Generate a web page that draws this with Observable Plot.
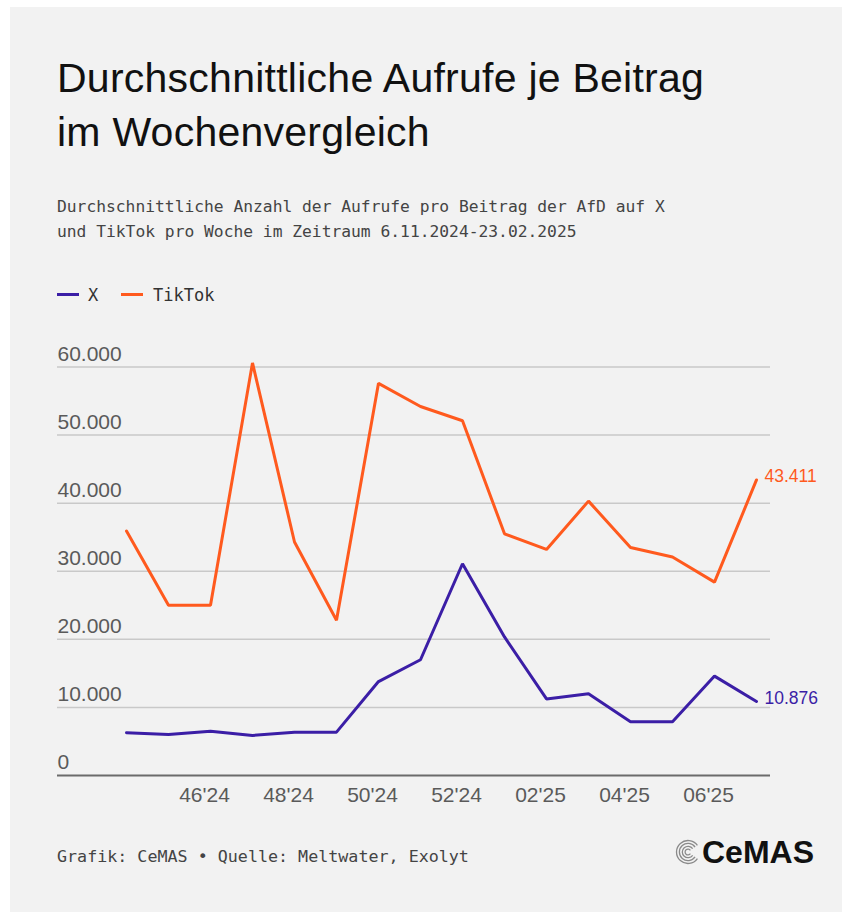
<!DOCTYPE html>
<html>
<head>
<meta charset="utf-8">
<script src="https://cdn.jsdelivr.net/npm/d3@7"></script>
<script src="https://cdn.jsdelivr.net/npm/@observablehq/plot@0.6"></script>
<style>
  html, body { margin: 0; padding: 0; background: #ffffff; }
  #page { position: relative; width: 850px; height: 913px; overflow: hidden; }
  #panel { position: absolute; left: 10px; top: 7px; width: 832px; height: 905px; background: #f2f2f2; }
  .abs { position: absolute; white-space: nowrap; }
  #title { left: 57px; top: 51px; font-family: "Liberation Sans", Arial, sans-serif; font-size: 41px; line-height: 54px; color: #111; letter-spacing: 0.25px; }
  #subtitle { left: 57px; top: 194px; font-family: "DejaVu Sans Mono", monospace; font-size: 16.3px; line-height: 25px; color: #444; }
  .legtext { font-family: "DejaVu Sans Mono", monospace; font-size: 17px; line-height: 20px; color: #333; top: 285px; }
  .swatch { height: 3px; width: 22px; top: 292.5px; }
  #footer { left: 57px; top: 846px; font-family: "DejaVu Sans Mono", monospace; font-size: 16.7px; line-height: 20px; color: #444; }
  #logo { left: 702px; top: 836px; font-family: "Liberation Sans", Arial, sans-serif; font-weight: bold; font-size: 32px; line-height: 32px; color: #111; }
  #chart { position: absolute; left: 0; top: 330px; }
</style>
</head>
<body>
<div id="page">
  <div id="panel"></div>
  <div id="title" class="abs">Durchschnittliche Aufrufe je Beitrag<br>im Wochenvergleich</div>
  <div id="subtitle" class="abs">Durchschnittliche Anzahl der Aufrufe pro Beitrag der AfD auf X<br>und TikTok pro Woche im Zeitraum 6.11.2024-23.02.2025</div>
  <div class="abs swatch" id="sw0" style="left:57px;"></div>
  <div class="abs legtext" id="lg0" style="left:88px;"></div>
  <div class="abs swatch" id="sw1" style="left:121px;"></div>
  <div class="abs legtext" id="lg1" style="left:153px;"></div>
  <div id="chart"></div>
  <div id="footer" class="abs">Grafik: CeMAS • Quelle: Meltwater, Exolyt</div>
  <svg class="abs" id="icon" style="left:675px; top:839px;" width="26" height="26"></svg>
  <div id="logo" class="abs">CeMAS</div>
</div>
<script>
// ---- data ----
const weeks = ["44'24","45'24","46'24","47'24","48'24","49'24","50'24","51'24","52'24","01'25","02'25","03'25","04'25","05'25","06'25","07'25"];
const tickWeeks = ["46'24","48'24","50'24","52'24","02'25","04'25","06'25"];
const yTicks = [0, 10000, 20000, 30000, 40000, 50000, 60000];
const seriesNames = ["X", "TikTok"];
const seriesColors = ["#3b1ea6", "#ff5a1e"];
const xViews = [6280, 6030, 6510, 5880, 6370, 6370, 13800, 17000, 31100, 20350, 11250, 12000, 7900, 7900, 14600, 10876];
const tiktokViews = [35900, 25000, 25000, 60600, 34300, 22800, 57600, 54200, 52100, 35500, 33200, 40300, 33500, 32100, 28400, 43411];

const fmt = d3.formatLocale({decimal: ",", thousands: ".", grouping: [3], currency: ["", "€"]}).format(",d");

// legend
seriesNames.forEach((n, i) => {
  document.getElementById("sw" + i).style.background = seriesColors[i];
  document.getElementById("lg" + i).textContent = n;
});

const rowsX = weeks.map((w, i) => ({week: w, value: xViews[i]}));
const rowsT = weeks.map((w, i) => ({week: w, value: tiktokViews[i]}));

const chart = Plot.plot({
  width: 850,
  height: 490,
  marginLeft: 57,
  marginRight: 80,
  marginTop: 36.5,
  marginBottom: 45,
  x: {type: "point", domain: weeks, range: [125.7, 755.7], padding: 0},
  y: {domain: [0, 60000], range: [445, 36.5]},
  style: {background: "transparent", overflow: "visible", fontFamily: "'Liberation Sans', Arial, sans-serif", fontSize: "21px", color: "#5a5a5a"},
  marks: [
    Plot.ruleY(yTicks.filter(d => d > 0), {stroke: "#c9c9c9", strokeWidth: 1.5}),
    Plot.ruleY([0], {stroke: "#6b6b6b", strokeWidth: 2}),
    Plot.axisY({ticks: yTicks, tickSize: 0, tickPadding: 0, textAnchor: "start", dy: -13, tickFormat: fmt, label: null}),
    Plot.axisX({ticks: tickWeeks, tickSize: 0, tickPadding: 12, dx: -6, label: null}),
    Plot.line(rowsT, {x: "week", y: "value", stroke: seriesColors[1], strokeWidth: 3, strokeLinejoin: "miter"}),
    Plot.line(rowsX, {x: "week", y: "value", stroke: seriesColors[0], strokeWidth: 3, strokeLinejoin: "miter"}),
    Plot.text([rowsT[rowsT.length - 1]], {x: "week", y: "value", text: d => fmt(d.value), textAnchor: "start", dx: 8, dy: -3.5, fill: seriesColors[1], fontSize: 17.5}),
    Plot.text([rowsX[rowsX.length - 1]], {x: "week", y: "value", text: d => fmt(d.value), textAnchor: "start", dx: 8, dy: -3.5, fill: seriesColors[0], fontSize: 17.5})
  ]
});
document.getElementById("chart").appendChild(chart);

// logo icon (decorative)
const icon = d3.select("#icon");
const cx = 13, cy = 13, a = 35 * Math.PI / 180;
[11.5, 8.6, 5.7, 2.9].forEach(r => {
  const x0 = cx + r * Math.cos(a), y0 = cy - r * Math.sin(a), y1 = cy + r * Math.sin(a);
  icon.append("path")
    .attr("d", `M${x0},${y0} A${r},${r} 0 1 0 ${x0},${y1}`)
    .attr("fill", "none").attr("stroke", "#8a8a8a").attr("stroke-width", 1.3);
});
</script>
</body>
</html>
